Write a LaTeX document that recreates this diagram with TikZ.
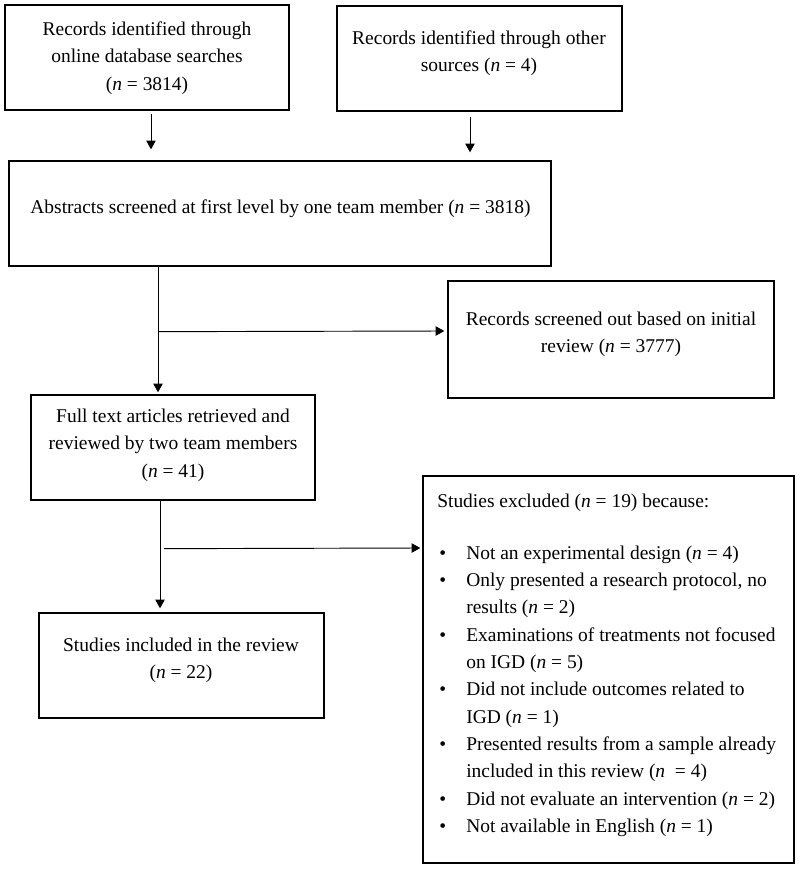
\documentclass[tikz,border=0pt]{standalone}
\usepackage{fontspec}
\setmainfont{Liberation Serif}
\usetikzlibrary{arrows.meta,calc}
\newcommand\nn{\textit{n}}
\newcommand\itm{\makebox[21.75pt][l]{\hspace{1.5pt}\textbullet}}
\newcommand\ind{\hspace*{21.75pt}}
\begin{document}
\begin{tikzpicture}[x=0.75pt,y=-0.75pt,
  box/.style={draw,line width=1pt,inner sep=0pt,rectangle},
  txt/.style={inner sep=0pt,align=center,font=\fontsize{14.6}{20.5}\selectfont},
  arr/.style={line width=0.7pt,-{Triangle[length=6.5pt,width=7pt]}}]
\useasboundingbox (0,0) rectangle (800,870);
% boxes
\node[box,minimum width=213pt,minimum height=78.75pt] (A) at (147,57.5) {};
\node[box,minimum width=213.75pt,minimum height=78.75pt] (B) at (479.5,58.5) {};
\node[box,minimum width=406.5pt,minimum height=78.75pt] (C) at (280,213.5) {};
\node[box,minimum width=244.5pt,minimum height=87.75pt] (D) at (611,339.5) {};
\node[box,minimum width=213pt,minimum height=78.75pt] (E) at (173,447.5) {};
\node[box,minimum width=213.75pt,minimum height=78.75pt] (F) at (181.5,665.5) {};
\node[box,minimum width=278.25pt,minimum height=290.25pt] (G) at (608.5,669.5) {};
% texts
\node[txt] (At) at (147,58) {Records identified through\\online database searches\\(\nn{} = 3814)};
\node[txt] (Bt) at (479,53.5) {Records identified through other\\sources (\nn{} = 4)};
\node[txt] (Ct) at (280.5,208.5) {Abstracts screened at first level by one team member (\nn{} = 3818)};
\node[txt] (Dt) at (611,334.5) {Records screened out based on initial\\review (\nn{} = 3777)};
\node[txt] (Et) at (173,445) {Full text articles retrieved and\\reviewed by two team members\\(\nn{} = 41)};
\node[txt] (Ft) at (181,660.5) {Studies included in the review\\(\nn{} = 22)};
\node[txt,align=left,anchor=north west] (Gt) at (437,494) {Studies excluded (\nn{} = 19) because:\\[18pt]
\itm Not an experimental design (\nn{} = 4)\\
\itm Only presented a research protocol, no\\
\ind results (\nn{} = 2)\\
\itm Examinations of treatments not focused\\
\ind on IGD (\nn{} = 5)\\
\itm Did not include outcomes related to\\
\ind IGD (\nn{} = 1)\\
\itm Presented results from a sample already\\
\ind included in this review (\nn{}\ \ = 4)\\
\itm Did not evaluate an intervention (\nn{} = 2)\\
\itm Not available in English (\nn{} = 1)};
% connectors
\draw[arr] ($(A.south)+(4,3)$) -- ($(C.north)+(-129,-11)$);
\draw[arr] ($(B.south)+(-9.5,5)$) -- ($(C.north)+(190,-8)$);
\draw[arr] ($(C.south)+(-122,0)$) -- ($(E.north)+(-15,-2)$);
\draw[arr] ($(C.south)+(-121,65)$) -- ($(D.west)+(-3,-8.5)$);
\draw[arr] ($(E.south)+(-13,0)$) -- ($(F.north)+(-21.5,-4)$);
\draw[arr] ($(E.south)+(-9,48)$) -- ($(G.west)+(-2,-121.5)$);
\end{tikzpicture}
\end{document}
